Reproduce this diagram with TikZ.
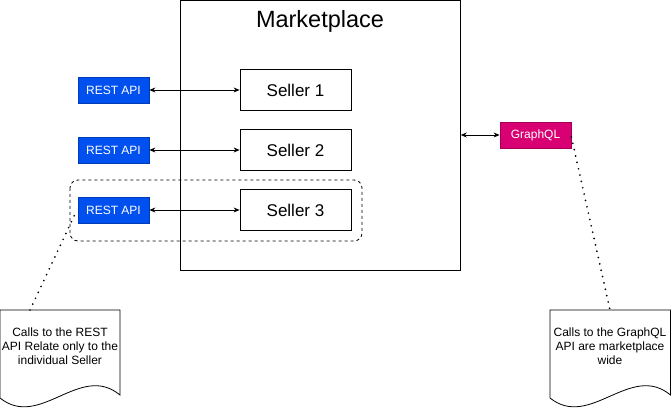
\documentclass[tikz,border=0pt]{standalone}
\usepackage{fontspec}
\setmainfont{Liberation Sans}
\usetikzlibrary{arrows.meta}
\definecolor{restblue}{HTML}{0050EF}
\definecolor{gqlpink}{HTML}{D80073}
\begin{document}
\begin{tikzpicture}[x=1pt,y=-1pt,line width=0.8pt,
        seller/.style={draw,minimum width=111pt,minimum height=41pt,inner sep=0pt,font=\fontsize{17}{20}\selectfont},
        api/.style={draw=#1!75!black,fill=#1,text=white,minimum width=71pt,minimum height=26pt,inner sep=0pt,font=\fontsize{12}{14}\selectfont},
        link/.style={{Stealth[length=6pt,width=5pt]}-{Stealth[length=6pt,width=5pt]}},
        notelink/.style={line width=1.9pt,dash pattern=on 0pt off 6.5pt,line cap=round},
        notetext/.style={align=center,font=\fontsize{12}{14}\selectfont}]
        \useasboundingbox (0,0) rectangle (671,411);
        % marketplace
        \node[draw,anchor=north west,minimum width=280pt,minimum height=269.5pt] (market) at (180,0.5) {};
        \node[anchor=base,font=\fontsize{23.5}{28}\selectfont] (title) at (320,28) {Marketplace};
        \node[seller] (seller1) at (295.5,90) {Seller 1};
        \node[seller] (seller2) at (295.5,150) {Seller 2};
        \node[seller] (seller3) at (295.5,210) {Seller 3};
        \node[api=restblue] (rest1) at (113.5,90) {REST API};
        \node[api=restblue] (rest2) at (113.5,150) {REST API};
        \node[api=restblue] (rest3) at (113.5,210) {REST API};
        \draw[link] (rest1) -- (seller1);
        \draw[link] (rest2) -- (seller2);
        \draw[link] (rest3) -- (seller3);
        \draw[dash pattern=on 3pt off 3pt,rounded corners=8pt] (70,180) rectangle (362,241);
        % graphql
        \node[api=gqlpink] (gql) at (535.5,135) {GraphQL};
        \draw[link] (gql.west -| market.east) -- (gql.west);
        % notes
        \draw (0,310) -- (120,310) -- (120,395) .. controls (80,362) and (40,430) .. (0,398) -- cycle;
        \node[notetext] (restnote) at (60,346) {Calls to the REST\\API Relate only to the\\individual Seller};
        \draw (550,310) -- (670.5,310) -- (670.5,395) .. controls (630.5,362) and (590,430) .. (550,398) -- cycle;
        \node[notetext] (gqlnote) at (610,346) {Calls to the GraphQL\\API are marketplace\\wide};
        \coordinate (resttop) at (30,310);
        \coordinate (gqltop) at (610,310);
        \coordinate (restend) at (76,212);
        \draw[notelink] (resttop) -- (restend);
        \draw[notelink] (gql.east) ++(0,2) -- (gqltop);
    \end{tikzpicture}
\end{document}
